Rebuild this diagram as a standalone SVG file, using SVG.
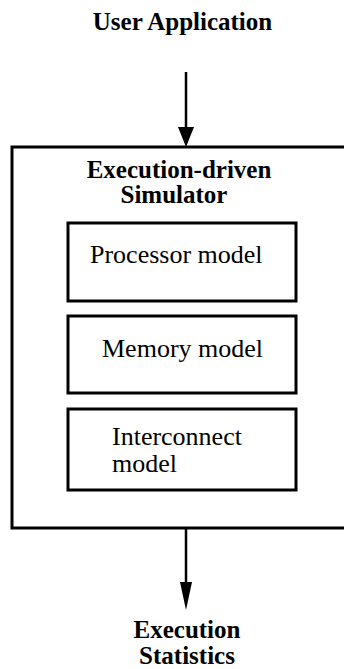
<svg xmlns="http://www.w3.org/2000/svg" width="344" height="669" viewBox="0 0 344 669">
<style>
.box{fill:none;stroke:#000;stroke-width:3}
.b{font-family:"Liberation Serif","Times New Roman",serif;font-weight:bold;font-size:25px;fill:#000;text-anchor:middle}
.r{font-family:"Liberation Serif","Times New Roman",serif;font-size:26px;fill:#000}
.ln{stroke:#000;stroke-width:2.5;fill:none}
</style>
<rect width="344" height="669" fill="#fff"/>
<g id="user-app"><text class="b" x="182.5" y="30">User Application</text></g>
<g id="simulator">
<rect class="box" x="12" y="147" width="336" height="381"/>
<text class="b" x="179" y="178">Execution-driven</text>
<text class="b" x="174" y="203">Simulator</text>
</g>
<g id="processor"><rect class="box" x="68" y="223" width="228" height="78"/><text class="r" x="90" y="263">Processor model</text></g>
<g id="memory"><rect class="box" x="68" y="316" width="228" height="77"/><text class="r" x="102" y="357">Memory model</text></g>
<g id="interconnect"><rect class="box" x="68" y="409" width="228" height="81"/><text class="r" x="112" y="445">Interconnect</text><text class="r" x="112" y="472">model</text></g>
<g id="stats"><text class="b" x="187" y="638">Execution</text><text class="b" x="187" y="664">Statistics</text></g>
<g id="connectors">
<line class="ln" x1="186" y1="72" x2="186" y2="130"/>
<polygon points="178,127 194,127 186,147" fill="#000"/>
<line class="ln" x1="186" y1="528" x2="186" y2="585"/>
<polygon points="180,582 192,582 186,610" fill="#000"/>
</g>
</svg>
